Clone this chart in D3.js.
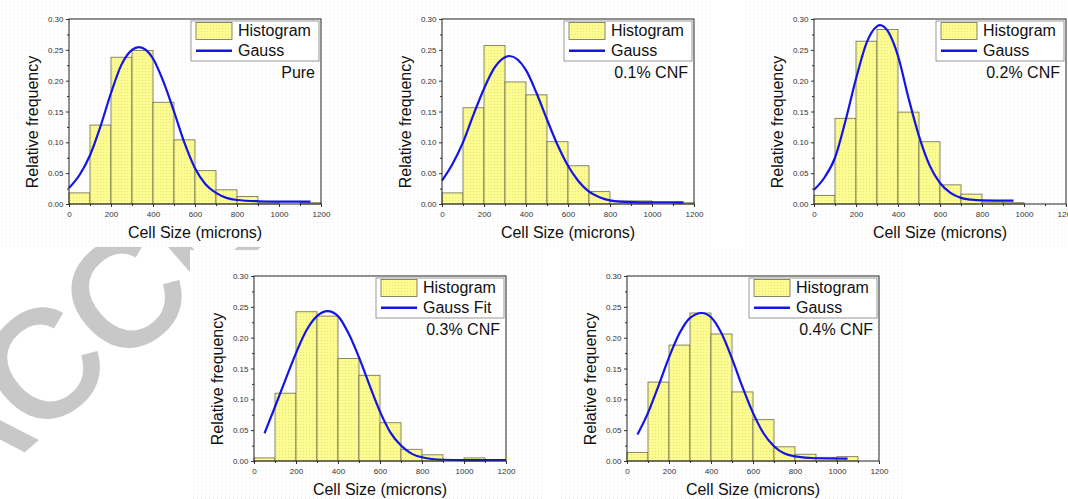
<!DOCTYPE html>
<html lang="en">
<head>
<meta charset="UTF-8">
<title>Cell size distributions</title>
<script src="https://d3js.org/d3.v7.min.js"></script>
<style>
html, body {
    margin: 0;
    padding: 0;
    background: #ffffff;
}
svg {
    display: block;
}
text {
    font-family: 'Liberation Sans', Arial, sans-serif;
}
.tick line {
    stroke: #333;
}
.tick text {
    font-size: 8px;
    fill: #333;
}
</style>
</head>
<body>
<svg id="canvas"></svg>
<script>
// bins (left edge, microns) and relative frequencies
let binStarts = [0, 100, 200, 300, 400, 500, 600, 700, 800, 900, 1000, 1100]
let binWidth = 100

let pureFreq  = [0.018, 0.128, 0.238, 0.249, 0.165, 0.104, 0.054, 0.023, 0.012, 0.002, 0, 0.002]
let cnf01Freq = [0.018, 0.156, 0.257, 0.198, 0.177, 0.101, 0.062, 0.020, 0.005, 0.005, 0, 0.002]
let cnf02Freq = [0.014, 0.139, 0.264, 0.283, 0.149, 0.101, 0.031, 0.016, 0.003, 0.002, 0, 0]
let cnf03Freq = [0.005, 0.110, 0.242, 0.235, 0.166, 0.139, 0.062, 0.019, 0.010, 0, 0.005, 0]
let cnf04Freq = [0.014, 0.128, 0.188, 0.240, 0.206, 0.112, 0.067, 0.023, 0.011, 0.006, 0.007, 0]

// gauss fit curves
let pureGaussX = [0, 50, 100, 150, 200, 250, 300, 333, 400, 450, 500, 550, 600, 650, 700, 750, 800, 900, 1000, 1150]
let pureGaussY = [0.026, 0.047, 0.079, 0.126, 0.180, 0.226, 0.250, 0.2545, 0.236, 0.198, 0.150, 0.099, 0.058, 0.032, 0.018, 0.010, 0.0065, 0.0045, 0.004, 0.004]

let cnf01GaussX = [0, 50, 100, 150, 200, 250, 300, 321, 400, 450, 500, 550, 600, 650, 700, 750, 800, 900, 1000, 1150]
let cnf01GaussY = [0.038, 0.065, 0.100, 0.145, 0.187, 0.221, 0.238, 0.240, 0.217, 0.180, 0.137, 0.096, 0.062, 0.037, 0.020, 0.011, 0.006, 0.003, 0.0025, 0.0025]

let cnf02GaussX = [0, 50, 100, 150, 200, 250, 300, 314, 350, 400, 450, 500, 550, 600, 650, 700, 750, 800, 950]
let cnf02GaussY = [0.023, 0.043, 0.075, 0.135, 0.203, 0.261, 0.288, 0.290, 0.281, 0.240, 0.172, 0.110, 0.063, 0.034, 0.018, 0.010, 0.007, 0.006, 0.0055]

let cnf03GaussX = [50, 100, 150, 200, 250, 300, 351, 400, 450, 500, 550, 600, 650, 700, 750, 800, 900, 1000, 1200]
let cnf03GaussY = [0.045, 0.088, 0.132, 0.175, 0.212, 0.235, 0.243, 0.235, 0.207, 0.168, 0.123, 0.080, 0.046, 0.025, 0.012, 0.006, 0.002, 0.0015, 0.0015]

let cnf04GaussX = [50, 100, 150, 200, 250, 300, 356, 400, 450, 500, 550, 600, 650, 700, 750, 800, 900, 1050]
let cnf04GaussY = [0.043, 0.078, 0.122, 0.168, 0.207, 0.232, 0.240, 0.233, 0.207, 0.166, 0.120, 0.078, 0.045, 0.024, 0.012, 0.0075, 0.0045, 0.004]

let panelLabels = ['Pure', '0.1% CNF', '0.2% CNF', '0.3% CNF', '0.4% CNF']
let fitNames = ['Gauss', 'Gauss', 'Gauss', 'Gauss Fit', 'Gauss']
let histName = 'Histogram'

let xTicks = [0, 200, 400, 600, 800, 1000, 1200]
let xMinorTicks = [100, 300, 500, 700, 900, 1100]
let yTicks = [0, 0.05, 0.10, 0.15, 0.20, 0.25, 0.30]
let yMinorTicks = [0.025, 0.075, 0.125, 0.175, 0.225, 0.275]

let xTitle = 'Cell Size (microns)'
let yTitle = 'Relative frequency'
let watermark = 'ACCEPTED MANUSCRIPT'

let width = 1068
let height = 499
let pw = 252
let ph = 185

let svg = d3.select('#canvas')
    .attr('width', width)
    .attr('height', height)

let defs = svg.append('defs')

let barPat = defs.append('pattern')
    .attr('id', 'barFill')
    .attr('patternUnits', 'userSpaceOnUse')
    .attr('width', 3)
    .attr('height', 3)
barPat.append('rect').attr('width', 3).attr('height', 3).attr('fill', '#fcfc92')
barPat.append('rect').attr('x', 1).attr('y', 1).attr('width', 1).attr('height', 1).attr('fill', '#e6e678')

let bgPat = defs.append('pattern')
    .attr('id', 'bgFill')
    .attr('patternUnits', 'userSpaceOnUse')
    .attr('width', 4)
    .attr('height', 4)
bgPat.append('rect').attr('width', 4).attr('height', 4).attr('fill', '#ffffff')
bgPat.append('rect').attr('x', 1).attr('y', 2).attr('width', 1).attr('height', 1).attr('fill', '#ececec')

// watermark sits behind the panels
svg.append('text')
    .attr('transform', 'translate(-40, 506) rotate(-41)')
    .attr('font-size', 150)
    .attr('fill', '#c8c8c8')
    .attr('stroke', '#c8c8c8')
    .attr('stroke-width', 4)
    .text(watermark)

let panels = [
    {freq: pureFreq,  gx: pureGaussX,  gy: pureGaussY,  left: 69,  top: 19,  bg: [0, 0, 380, 247]},
    {freq: cnf01Freq, gx: cnf01GaussX, gy: cnf01GaussY, left: 442, top: 19,  bg: [376, 0, 336, 250]},
    {freq: cnf02Freq, gx: cnf02GaussX, gy: cnf02GaussY, left: 814, top: 19,  bg: [745, 0, 323, 250]},
    {freq: cnf03Freq, gx: cnf03GaussX, gy: cnf03GaussY, left: 254, top: 276, bg: [190, 250, 355, 249]},
    {freq: cnf04Freq, gx: cnf04GaussX, gy: cnf04GaussY, left: 627, top: 276, bg: [560, 250, 345, 249]}
]

panels.forEach((p) => {
    svg.append('rect')
        .attr('x', p.bg[0]).attr('y', p.bg[1])
        .attr('width', p.bg[2]).attr('height', p.bg[3])
        .attr('fill', 'url(#bgFill)')
})

let xScale = d3.scaleLinear().domain([0, 1200]).range([0, pw])
let yScale = d3.scaleLinear().domain([0, 0.30]).range([ph, 0])

let gaussLine = d3.line()
    .x((d) => xScale(d[0]))
    .y((d) => yScale(d[1]))
    .curve(d3.curveMonotoneX)

let drawPanel = (p, i) => {
    let g = svg.append('g')
        .attr('transform', 'translate(' + p.left + ',' + p.top + ')')

    let bars = binStarts.map((b, k) => ({x0: b, v: p.freq[k]})).filter((d) => d.v > 0)

    g.selectAll('rect.bar')
        .data(bars)
        .enter()
        .append('rect')
        .attr('class', 'bar')
        .attr('x', (d) => xScale(d.x0))
        .attr('width', (d) => xScale(d.x0 + binWidth) - xScale(d.x0))
        .attr('y', (d) => yScale(d.v))
        .attr('height', (d) => yScale(0) - yScale(d.v))
        .attr('fill', 'url(#barFill)')
        .attr('stroke', '#6a6a50')
        .attr('stroke-width', 0.8)

    g.append('path')
        .datum(p.gx.map((v, k) => [v, p.gy[k]]))
        .attr('d', gaussLine)
        .attr('fill', 'none')
        .attr('stroke', '#1414e6')
        .attr('stroke-width', 2.2)

    // axes
    let xAxis = g.append('g')
        .attr('transform', 'translate(0,' + ph + ')')
        .call(d3.axisBottom(xScale).tickValues(xTicks).tickSize(3).tickPadding(4).tickFormat(d3.format('d')))
    let xMinor = g.append('g')
        .attr('transform', 'translate(0,' + ph + ')')
        .call(d3.axisBottom(xScale).tickValues(xMinorTicks).tickSize(2).tickFormat(''))
    let yAxis = g.append('g')
        .call(d3.axisLeft(yScale).tickValues(yTicks).tickSize(3).tickPadding(2.5).tickFormat(d3.format('.2f')))
    let yMinor = g.append('g')
        .call(d3.axisLeft(yScale).tickValues(yMinorTicks).tickSize(2).tickFormat(''))
    ;[xAxis, xMinor, yAxis, yMinor].forEach((a) => {
        a.select('.domain').remove()
        a.attr('font-family', null).attr('font-size', null)
    })

    g.append('rect')
        .attr('width', pw)
        .attr('height', ph)
        .attr('fill', 'none')
        .attr('stroke', '#222')
        .attr('stroke-width', 1)

    // legend
    let lx = pw - 130
    let leg = g.append('g').attr('transform', 'translate(' + lx + ',2)')
    leg.append('rect')
        .attr('width', 128)
        .attr('height', 40)
        .attr('fill', '#ffffff')
        .attr('stroke', '#808080')
        .attr('stroke-width', 0.8)
    leg.append('rect')
        .attr('x', 5).attr('y', 1.5)
        .attr('width', 36).attr('height', 17)
        .attr('fill', 'url(#barFill)')
        .attr('stroke', '#6a6a50')
        .attr('stroke-width', 0.8)
    leg.append('text')
        .attr('x', 47).attr('y', 15)
        .attr('font-size', 16)
        .attr('fill', '#111')
        .text(histName)
    leg.append('line')
        .attr('x1', 5).attr('x2', 41)
        .attr('y1', 29.7).attr('y2', 29.7)
        .attr('stroke', '#1414e6')
        .attr('stroke-width', 2.4)
    leg.append('text')
        .attr('x', 47).attr('y', 35)
        .attr('font-size', 16)
        .attr('fill', '#111')
        .text(fitNames[i])

    g.append('text')
        .attr('x', pw - 6)
        .attr('y', 58.7)
        .attr('text-anchor', 'end')
        .attr('font-size', 16)
        .attr('fill', '#111')
        .text(panelLabels[i])

    // axis titles
    g.append('text')
        .attr('x', pw / 2)
        .attr('y', ph + 34)
        .attr('text-anchor', 'middle')
        .attr('font-size', 16)
        .attr('fill', '#111')
        .text(xTitle)
    g.append('text')
        .attr('transform', 'translate(-31,' + 103 + ') rotate(-90)')
        .attr('text-anchor', 'middle')
        .attr('font-size', 16)
        .attr('fill', '#111')
        .text(yTitle)
}

panels.forEach(drawPanel)
</script>
</body>
</html>
